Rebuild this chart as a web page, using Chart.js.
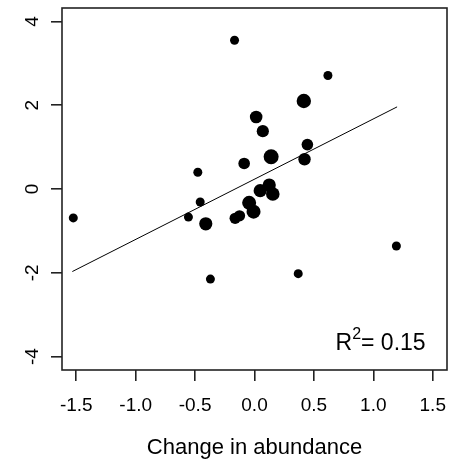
<!DOCTYPE html>
<html>
<head>
<meta charset="utf-8">
<script src="https://cdn.jsdelivr.net/npm/chart.js@4.4.1/dist/chart.umd.min.js"></script>
<style>
  html, body { margin: 0; padding: 0; background: #fff; }
  #wrap { width: 450px; height: 462px; }
</style>
</head>
<body>
<div id="wrap"><canvas id="chart"></canvas></div>
<script>
// abundance change vs. response, one dot per site
const abundance = [-1.525, -0.168, 0.618, 0.415, 0.014, 0.070, 0.445, 0.140, 0.421, -0.087,
  -0.477, -0.457, -0.556, -0.410, -0.163, -0.126, -0.045, -0.008, 0.048, 0.124, 0.154,
  -0.371, 0.368, 1.194];
const response = [-0.69, 3.55, 2.71, 2.10, 1.72, 1.38, 1.06, 0.77, 0.71, 0.61,
  0.40, -0.31, -0.67, -0.83, -0.70, -0.64, -0.33, -0.54, -0.04, 0.095, -0.12,
  -2.15, -2.02, -1.36];
// dot weights (drawn as radius in px)
const dotSize = [4.5, 4.5, 4.5, 7.2, 6.3, 6.1, 5.8, 7.5, 6.2, 5.8,
  4.5, 4.5, 4.5, 6.6, 5.6, 5.6, 7.0, 7.0, 6.6, 6.6, 6.8,
  4.5, 4.5, 4.5];

// fitted line end points
const fitX = [-1.533, 1.200];
const fitY = [-1.97, 1.96];
const rSquared = '0.15';

const xTicks = [-1.5, -1.0, -0.5, 0.0, 0.5, 1.0, 1.5];
const yTicks = [-4, -2, 0, 2, 4];

const points = abundance.map((x, i) => ({x: x, y: response[i]}));
const fitLine = fitX.map((x, i) => ({x: x, y: fitY[i]}));

Chart.defaults.font.family = '"Liberation Sans", Arial, sans-serif';
Chart.defaults.color = '#000';

// box around the plot region plus the R^2 note
const boxPlugin = {
  id: 'box',
  afterDraw(chart) {
    const {ctx, chartArea: a, scales} = chart;
    ctx.save();
    ctx.strokeStyle = '#222';
    ctx.lineWidth = 1.6;
    ctx.strokeRect(a.left, a.top, a.right - a.left, a.bottom - a.top);

    const tx = scales.x.getPixelForValue(1.44);
    const ty = scales.y.getPixelForValue(-3.85);
    ctx.fillStyle = '#000';
    ctx.textBaseline = 'alphabetic';
    ctx.textAlign = 'left';
    const big = '23px "Liberation Sans", Arial, sans-serif';
    const small = '16px "Liberation Sans", Arial, sans-serif';
    ctx.font = big;
    const rest = '= ' + rSquared;
    const wR = ctx.measureText('R').width;
    const wRest = ctx.measureText(rest).width;
    ctx.font = small;
    const w2 = ctx.measureText('2').width;
    let x0 = tx - wRest - w2 - wR;
    ctx.font = big;
    ctx.fillText('R', x0, ty);
    ctx.font = small;
    ctx.fillText('2', x0 + wR, ty - 11);
    ctx.font = big;
    ctx.fillText(rest, x0 + wR + w2, ty);
    ctx.restore();
  }
};

new Chart(document.getElementById('chart'), {
  type: 'scatter',
  data: {
    datasets: [
      {
        label: 'sites',
        data: points,
        backgroundColor: '#000',
        borderColor: '#000',
        borderWidth: 0,
        pointRadius: dotSize,
        pointHoverRadius: dotSize
      },
      {
        type: 'line',
        label: 'fit',
        data: fitLine,
        borderColor: '#000',
        borderWidth: 1,
        pointRadius: 0,
        fill: false
      }
    ]
  },
  options: {
    responsive: true,
    maintainAspectRatio: false,
    animation: false,
    layout: { autoPadding: false, padding: { top: 8, right: 3, left: 0, bottom: 0 } },
    plugins: { legend: { display: false }, tooltip: { enabled: false } },
    scales: {
      x: {
        type: 'linear',
        min: -1.62,
        max: 1.62,
        afterBuildTicks: (s) => { s.ticks = xTicks.map(v => ({value: v})); },
        afterFit: (s) => { s.height = 92; s.paddingLeft = 0; s.paddingRight = 0; },
        ticks: {
          font: { size: 19 },
          padding: 13,
          maxRotation: 0,
          callback: (v) => Number(v).toFixed(1)
        },
        grid: { drawOnChartArea: false, drawTicks: true, tickLength: 11, color: '#222', lineWidth: 1.6 },
        border: { display: false },
        title: {
          display: true,
          text: 'Change in abundance',
          font: { size: 22 },
          padding: { top: 0, bottom: 1 }
        }
      },
      y: {
        type: 'linear',
        min: -4.32,
        max: 4.32,
        afterBuildTicks: (s) => { s.ticks = yTicks.map(v => ({value: v})); },
        afterFit: (s) => { s.width = 62; s.paddingTop = 0; s.paddingBottom = 0; },
        ticks: {
          font: { size: 19 },
          minRotation: 90,
          maxRotation: 90,
          crossAlign: 'center',
          padding: 10,
          callback: (v) => String(v)
        },
        grid: { drawOnChartArea: false, drawTicks: true, tickLength: 11, color: '#222', lineWidth: 1.6 },
        border: { display: false }
      }
    }
  },
  plugins: [boxPlugin]
});
</script>
</body>
</html>
